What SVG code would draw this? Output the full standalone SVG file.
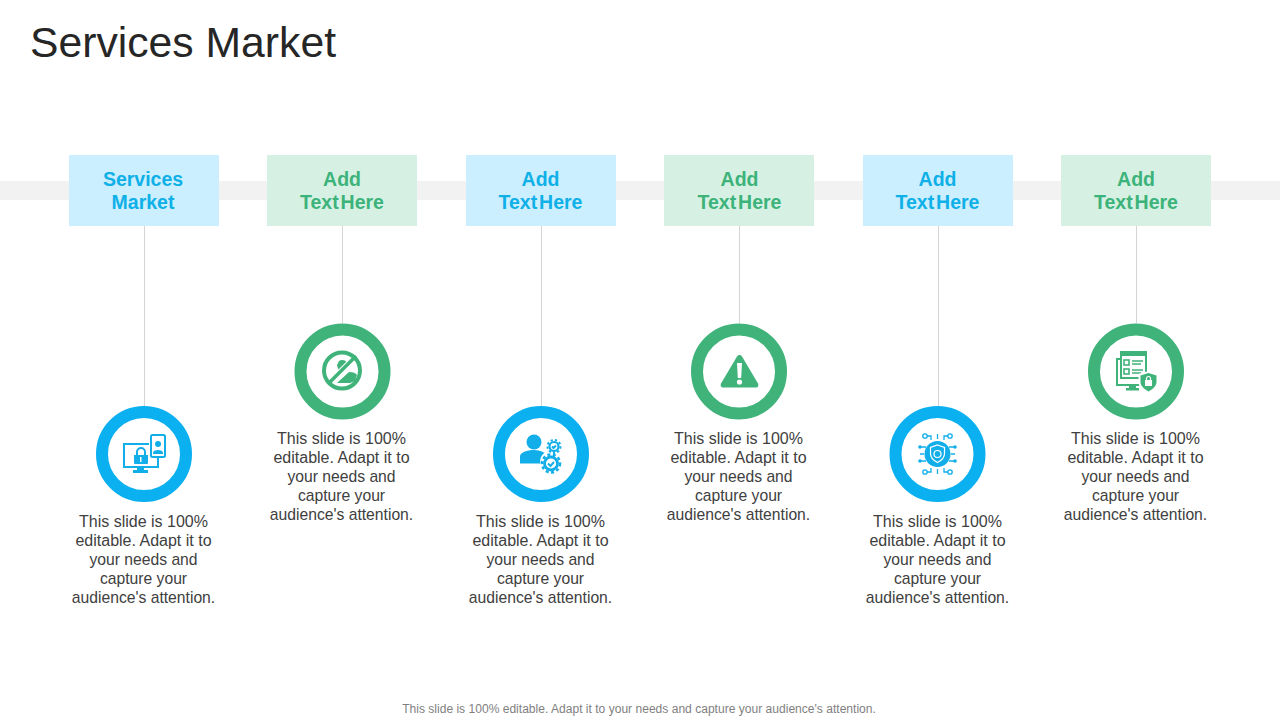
<svg xmlns="http://www.w3.org/2000/svg" width="1280" height="720" viewBox="0 0 1280 720">
<style>
text{font-family:"Liberation Sans",Arial,sans-serif}
.title{font-size:42.700px;fill:#262626}
.head{font-size:19.500px;font-weight:700;text-anchor:middle;word-spacing:-3.500px}
.body{font-size:15.700px;fill:#404040;text-anchor:middle}
.body.w1{font-size:16px}
.foot{font-size:12.070px;fill:#7f7f7f;text-anchor:middle}
.b .box{fill:#cbeffe}.g .box{fill:#d6f1e3}
.b .head{fill:#0fb0e8}.g .head{fill:#3cb37a}
.ring{fill:#fff;stroke-width:12}
.b .ring{stroke:#0bb0f0}.g .ring{stroke:#3fb37a}
.b .ic{fill:#12aeea;stroke:#12aeea}.g .ic{fill:#3fb37a;stroke:#3fb37a}
.ic{stroke-width:0}
.ic .o{fill:none;stroke-width:2}
.ic .w{fill:#fff;stroke:#fff}
.ln{stroke:#d4d4d4;stroke-width:1;fill:none}
</style>
<text class="title" x="30" y="57">Services Market</text>
<rect x="0" y="181" width="1280" height="19" fill="#f2f2f2"/>
<g id="connectors">
<path class="ln" d="M144.500 226V406M342.500 226V323M541.500 226V406M739.500 226V323M938.500 226V406M1136.500 226V323"/>
</g>
<g id="node-1" class="b">
<rect class="box" x="69" y="155" width="150" height="71"/>
<text class="head" x="143" y="186">Services</text><text class="head" x="143" y="209">Market</text>
<circle class="ring" cx="144" cy="454" r="42"/>
<g class="ic">
<path class="o" d="M149 444H124V467H158V458"/>
<path d="M137 467h7v3h4v3h-15v-3h4z"/>
<path d="M134 455h14v8a1 1 0 0 1-1 1h-12a1 1 0 0 1-1-1z"/>
<path class="o" d="M137 455v-3a4 4 0 0 1 8 0v3"/>
<rect class="o" x="151" y="435" width="14" height="22" rx="1.500"/>
<circle cx="158" cy="444" r="3"/>
<path d="M153 453c0-4 10-4 10 0v1h-10z"/>
<path class="w" stroke-width="0" d="M140 457h1.500v5h-1.500z"/>
</g>
<text class="body w1" x="143.500" y="527">This slide is 100%</text><text class="body w1" x="143.500" y="546">editable. Adapt it to</text><text class="body" x="143.500" y="565">your needs and</text><text class="body" x="143.500" y="584">capture your</text><text class="body" x="143.500" y="603">audience's attention.</text>
</g>
<g id="node-2" class="g">
<rect class="box" x="267" y="155" width="150" height="71"/>
<text class="head" x="342" y="186">Add</text><text class="head" x="342" y="209">Text Here</text>
<circle class="ring" cx="342.500" cy="371.500" r="42"/>
<g class="ic">
<circle class="o" style="stroke-width:4" cx="342" cy="370.500" r="18"/>
<path d="M339 361c3-2 7-1 8 2l2 3-7 8c-3-3-5-7-5-9z"/>
<path d="M337 383l12-11c4 0 7 1 8 3l-2 6-5 2z"/>
<path class="w" style="fill:none;stroke-width:7" d="M332 381l21-21"/>
<path class="o" style="stroke-width:3.500" d="M329 383l27-27"/>
</g>
<text class="body w1" x="341.500" y="444">This slide is 100%</text><text class="body w1" x="341.500" y="463">editable. Adapt it to</text><text class="body" x="341.500" y="482">your needs and</text><text class="body" x="341.500" y="501">capture your</text><text class="body" x="341.500" y="520">audience's attention.</text>
</g>
<g id="node-3" class="b">
<rect class="box" x="466" y="155" width="150" height="71"/>
<text class="head" x="540.500" y="186">Add</text><text class="head" x="540.500" y="209">Text Here</text>
<circle class="ring" cx="541" cy="454" r="42"/>
<g class="ic">
<circle cx="534" cy="442" r="7.500"/>
<path d="M520 463.500v-7c0-4 7-6.500 14-6.500 4 0 8 1 10.500 3-3 2-5 6-4 10.500z"/>
<circle class="o" style="stroke-width:2.200" cx="554" cy="446.500" r="4.500"/>
<circle class="o" style="stroke-width:2" stroke-dasharray="2.200 2.200" cx="554" cy="446.500" r="6.500"/>
<circle class="o" style="stroke-width:2.800" cx="551" cy="463.500" r="6.500"/>
<circle class="o" style="stroke-width:2.500" stroke-dasharray="3 2.500" cx="551" cy="463.500" r="9"/>
<path class="o" d="M548 463.500l2.500 2.500 3.500-4M552 446.500l1.500 1.500 2.500-2.500"/>
</g>
<text class="body w1" x="540.500" y="527">This slide is 100%</text><text class="body w1" x="540.500" y="546">editable. Adapt it to</text><text class="body" x="540.500" y="565">your needs and</text><text class="body" x="540.500" y="584">capture your</text><text class="body" x="540.500" y="603">audience's attention.</text>
</g>
<g id="node-4" class="g">
<rect class="box" x="664" y="155" width="150" height="71"/>
<text class="head" x="739.500" y="186">Add</text><text class="head" x="739.500" y="209">Text Here</text>
<circle class="ring" cx="739" cy="371.500" r="42"/>
<g class="ic">
<path d="M739.500 355c1 0 1.800.5 2.500 1.500l16 27c1 2 0 4-2 4h-33c-2 0-3-2-2-4l16-27c.7-1 1.500-1.500 2.500-1.500z"/>
<path class="w" stroke-width="0" d="M737 363h5l-.8 15h-3.400z"/>
<circle class="w" stroke-width="0" cx="739.500" cy="382" r="2.600"/>
</g>
<text class="body w1" x="738.500" y="444">This slide is 100%</text><text class="body w1" x="738.500" y="463">editable. Adapt it to</text><text class="body" x="738.500" y="482">your needs and</text><text class="body" x="738.500" y="501">capture your</text><text class="body" x="738.500" y="520">audience's attention.</text>
</g>
<g id="node-5" class="b">
<rect class="box" x="863" y="155" width="150" height="71"/>
<text class="head" x="937.500" y="186">Add</text><text class="head" x="937.500" y="209">Text Here</text>
<circle class="ring" cx="937.500" cy="454" r="42"/>
<g class="ic">
<circle cx="937.500" cy="454" r="13"/>
<path class="w" style="fill:none;stroke:#fff;stroke-width:1.200" d="M937.500 445l7 2.500v6c0 4-3 7-7 9-4-2-7-5-7-9v-6z"/>
<circle class="w" style="fill:none;stroke:#fff;stroke-width:1.200" cx="937.500" cy="454" r="3.500"/>
<path class="o" style="stroke-width:1.300" d="M937.500 434v5M937.500 469v5M931 440v-4h-4M944 440v-4h4M931 468v4h-4M944 468v4h4M920 447h6M920 454h4M920 461h6M949 447h6M951 454h4M949 461h6"/>
<circle class="o" style="stroke-width:1.300" cx="925" cy="436" r="2.200"/><circle class="o" style="stroke-width:1.300" cx="950" cy="436" r="2.200"/><circle class="o" style="stroke-width:1.300" cx="925" cy="472" r="2.200"/><circle class="o" style="stroke-width:1.300" cx="950" cy="472" r="2.200"/>
<circle cx="920" cy="447" r="1.800"/><circle cx="920" cy="461" r="1.800"/><circle cx="955" cy="447" r="1.800"/><circle cx="955" cy="461" r="1.800"/>
</g>
<text class="body w1" x="937.500" y="527">This slide is 100%</text><text class="body w1" x="937.500" y="546">editable. Adapt it to</text><text class="body" x="937.500" y="565">your needs and</text><text class="body" x="937.500" y="584">capture your</text><text class="body" x="937.500" y="603">audience's attention.</text>
</g>
<g id="node-6" class="g">
<rect class="box" x="1061" y="155" width="150" height="71"/>
<text class="head" x="1136" y="186">Add</text><text class="head" x="1136" y="209">Text Here</text>
<circle class="ring" cx="1136" cy="371.500" r="42"/>
<g class="ic">
<path class="o" d="M1120 359h-3v26h25"/>
<rect class="o" x="1121" y="353" width="25" height="25"/>
<rect x="1120" y="351" width="27" height="5"/>
<path d="M1129 385h7v3h3v2.500h-13v-2.500h3z"/>
<rect class="o" style="stroke-width:1.600" x="1124" y="360" width="5" height="5"/><rect class="o" style="stroke-width:1.600" x="1124" y="369" width="5" height="5"/>
<path class="o" style="stroke-width:1.300" d="M1132 361h11M1132 364h9M1132 370h11M1132 373h9"/>
<path class="w" stroke-width="0" d="M1148.500 371l10 3v8c0 5-4 8-10 11-6-3-10-6-10-11v-8z"/>
<path d="M1148.500 373l8 2.500v6.500c0 4-3.500 7-8 9.500-4.500-2.500-8-5.500-8-9.500v-6.500z"/>
<rect class="w" stroke-width="0" x="1145" y="380" width="7" height="6"/>
<path class="w" style="fill:none;stroke:#fff;stroke-width:1.200" d="M1146.500 380v-1.500a2 2 0 0 1 4 0v1.500"/>
</g>
<text class="body w1" x="1135.500" y="444">This slide is 100%</text><text class="body w1" x="1135.500" y="463">editable. Adapt it to</text><text class="body" x="1135.500" y="482">your needs and</text><text class="body" x="1135.500" y="501">capture your</text><text class="body" x="1135.500" y="520">audience's attention.</text>
</g>
<text class="foot" x="639" y="713">This slide is 100% editable. Adapt it to your needs and capture your audience's attention.</text>
</svg>
